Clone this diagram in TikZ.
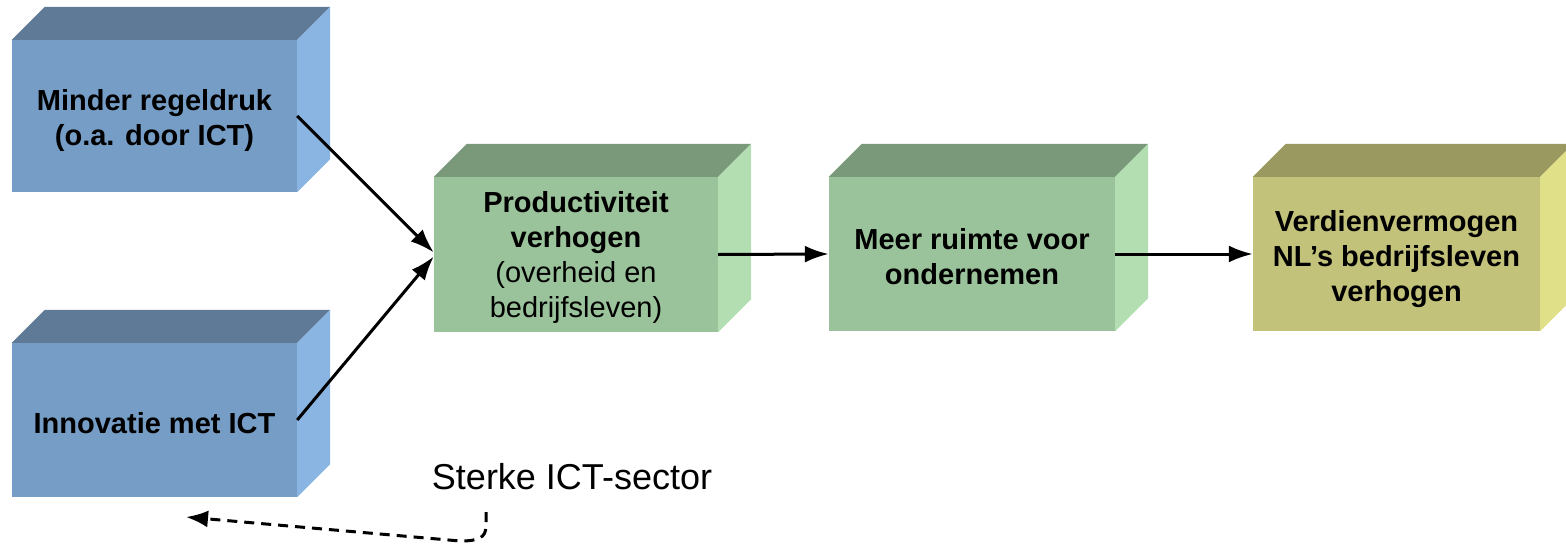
\documentclass[tikz,border=0pt]{standalone}
\usepackage{fontspec}
\setmainfont{Liberation Sans}
\usetikzlibrary{arrows.meta,calc}
\definecolor{bluefront}{HTML}{759DC5}
\definecolor{bluetop}{HTML}{5E7A97}
\definecolor{blueside}{HTML}{8AB4E1}
\definecolor{greenfront}{HTML}{9BC39B}
\definecolor{greentop}{HTML}{7A987A}
\definecolor{greenside}{HTML}{B2DEB2}
\definecolor{olivefront}{HTML}{C3C27A}
\definecolor{olivetop}{HTML}{9A9960}
\definecolor{oliveside}{HTML}{E0E088}
\tikzset{
  front/.style={inner sep=0pt},
  boxtext/.style={inner sep=0pt, align=center, text=black,
    font=\fontsize{29}{35}\selectfont\bfseries},
  conn/.style={line width=3pt, -{Latex[length=24pt,width=17pt]}},
  dashconn/.style={line width=3pt, dash pattern=on 10pt off 7pt, -{Latex[length=22pt,width=17pt]}},
}
% \cuboid{node}{top}{side}
\newcommand{\cuboid}[3]{%
  \fill[#2] (#1.north west) -- (#1.north east) -- ++(33,-33) -- ($(#1.north west)+(33,-33)$) -- cycle;
  \fill[#3] (#1.north east) -- (#1.south east) -- ++(33,-33) -- ($(#1.north east)+(33,-33)$) -- cycle;
}
\begin{document}
\begin{tikzpicture}[x=1pt,y=-1pt]
\useasboundingbox (0,0) rectangle (1566,546);
\clip (0,0) rectangle (1566,546);
% front faces
\node[front, fill=bluefront, minimum width=285pt, minimum height=152pt] (b1) at (154.5,116) {};
\node[front, fill=bluefront, minimum width=285pt, minimum height=154pt] (b2) at (154.5,420) {};
\node[front, fill=greenfront, minimum width=284pt, minimum height=155pt] (b3) at (576,254.5) {};
\node[front, fill=greenfront, minimum width=286pt, minimum height=154pt] (b4) at (972,254) {};
\node[front, fill=olivefront, minimum width=287pt, minimum height=154pt] (b5) at (1396.5,254) {};
\cuboid{b1}{bluetop}{blueside}
\cuboid{b2}{bluetop}{blueside}
\cuboid{b3}{greentop}{greenside}
\cuboid{b4}{greentop}{greenside}
\cuboid{b5}{olivetop}{oliveside}
% texts
\node[boxtext] (t1) at ($(b1.center)+(0,5)$) {Minder regeldruk\\(o.a. door ICT)};
\node[boxtext] (t2) at ($(b2.center)+(0,3)$) {Innovatie met ICT};
\node[boxtext] (t3) at ($(b3.center)+(0,3)$) {Productiviteit\\verhogen\\{\mdseries (overheid en}\\{\mdseries bedrijfsleven)}};
\node[boxtext] (t4) at ($(b4.center)+(0,3)$) {Meer ruimte voor\\ondernemen};
\node[boxtext] (t5) at ($(b5.center)+(0,5)$) {Verdienvermogen\\NL’s bedrijfsleven\\verhogen};
% label
\node[font=\fontsize{36}{43}\selectfont, inner sep=0pt] (sterke) at (572,477) {Sterke ICT-sector};
\coordinate (ds) at (486,512);
\coordinate (de) at (186,517);
% connectors
\draw[conn] (b1.east) -- ([yshift=2pt]b3.west);
\draw[conn] (b2.east) -- ([yshift=-2pt]b3.west);
\draw[conn] (b3.east) -- (b4.west);
\draw[conn] (b4.east) -- (b5.west);
\draw[dashconn] (ds) -- ++(0,14) .. controls (486,538) and (478,541) .. (460,541) -- (de);
\end{tikzpicture}
\end{document}
